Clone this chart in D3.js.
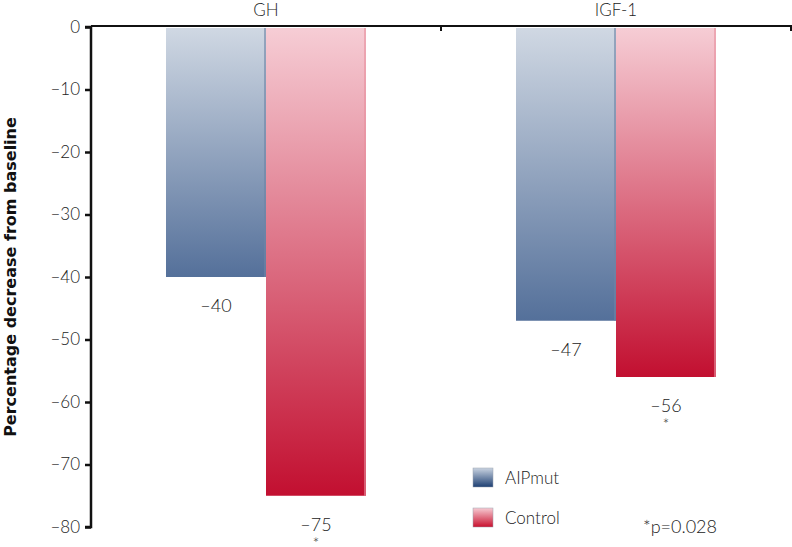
<!DOCTYPE html>
<html><head><meta charset="utf-8">
<script src="https://cdn.jsdelivr.net/npm/d3@7"></script>
<style>
body{margin:0;background:#fff;}
text{font-family:Lato,"Open Sans",sans-serif;}
</style></head>
<body><svg id="c" width="792" height="547"></svg>
<script>
const categories = ["GH", "IGF-1"];
const seriesNames = ["AIPmut", "Control"];
const aipmut = [-40, -47];
const control = [-75, -56];
const significant = [true, true]; // control marked with *
const yTicks = [0, -10, -20, -30, -40, -50, -60, -70, -80];
const note = "*p=0.028";
const yTitle = "Percentage decrease from baseline";

const svg = d3.select("#c");
const mL = 91, mR = 791, mT = 27, mB = 527;
const x0 = d3.scaleBand().domain(categories).range([mL, mR]).padding(0);
const x1 = d3.scaleBand().domain(seriesNames).range([0, x0.bandwidth()]).paddingInner(0).paddingOuter(0.75);
const y = d3.scaleLinear().domain([0, -80]).range([mT, mB]);

const defs = svg.append("defs");
const grads = {
  AIPmut: ["#d0d8e3", "#54709a"],
  Control: ["#f6cdd5", "#c20f30"]
};
const legGrads = {
  AIPmut: ["#c9d3e1", "#1d3f72"],
  Control: ["#f7cbd3", "#c8102e"]
};
function mk(id, c) {
  const g = defs.append("linearGradient").attr("id", id).attr("x1", 0).attr("y1", 0).attr("x2", 0).attr("y2", 1);
  g.append("stop").attr("offset", "0%").attr("stop-color", c[0]);
  g.append("stop").attr("offset", "100%").attr("stop-color", c[1]);
}
seriesNames.forEach(s => { mk("g-" + s, grads[s]); mk("l-" + s, legGrads[s]); });

const data = categories.map((c, i) => ({cat: c, vals: [
  {s: "AIPmut", v: aipmut[i], star: false},
  {s: "Control", v: control[i], star: significant[i]}
]}));

const groups = svg.append("g").selectAll("g").data(data).join("g")
  .attr("transform", d => `translate(${x0(d.cat)},0)`);

groups.selectAll("rect").data(d => d.vals).join("rect")
  .attr("x", d => x1(d.s))
  .attr("y", y(0) + 1)
  .attr("width", x1.bandwidth())
  .attr("height", d => y(d.v) - y(0) - 1)
  .attr("fill", d => `url(#g-${d.s})`);

groups.selectAll("line.edge").data(d => d.vals).join("line")
  .attr("class", "edge")
  .attr("x1", d => x1(d.s) + x1.bandwidth() - 1)
  .attr("x2", d => x1(d.s) + x1.bandwidth() - 1)
  .attr("y1", y(0) + 1).attr("y2", d => y(d.v))
  .attr("stroke", d => d.s === "AIPmut" ? "#6f84a6" : "#e8909f")
  .attr("stroke-width", 1.5).attr("opacity", 0.8);

const vt = groups.selectAll("text.val").data(d => d.vals).join("text")
  .attr("class", "val")
  .attr("y", d => y(d.v) + 35)
  .attr("text-anchor", "middle")
  .attr("font-size", 18).attr("font-weight", 300).attr("fill", "#222");
vt.append("tspan")
  .attr("x", d => x1(d.s) + x1.bandwidth() / 2)
  .text(d => "\u2013" + Math.abs(d.v));
vt.filter(d => d.star).append("tspan")
  .attr("x", d => x1(d.s) + x1.bandwidth() / 2)
  .attr("dy", 18)
  .attr("font-size", 16)
  .text("*");

const yAxis = svg.append("g").attr("transform", `translate(${mL},0)`)
  .call(d3.axisLeft(y).tickValues(yTicks).tickSize(6).tickPadding(5)
    .tickFormat(d => d === 0 ? "0" : "\u2013" + Math.abs(d)));
yAxis.select(".domain").attr("stroke", "#111").attr("stroke-width", 2.5).attr("d", `M-6,${mT}H0V${mB}H-6`);
yAxis.selectAll(".tick line").attr("stroke", "#111").attr("stroke-width", 2.5);
yAxis.selectAll(".tick text").attr("font-size", 17).attr("font-weight", 300).attr("fill", "#222")
  .style("font-family", "Lato, 'Open Sans', sans-serif");

const xAxis = svg.append("g").attr("transform", `translate(0,${mT - 1})`);
xAxis.append("line").attr("x1", mL).attr("x2", mR + 1).attr("y1", 0).attr("y2", 0)
  .attr("stroke", "#111").attr("stroke-width", 2);
xAxis.selectAll("line.tk").data(categories).join("line").attr("class", "tk")
  .attr("x1", d => x0(d) + x0.bandwidth()).attr("x2", d => x0(d) + x0.bandwidth())
  .attr("y1", 0).attr("y2", 5).attr("stroke", "#111").attr("stroke-width", 2);
xAxis.selectAll("text").data(categories).join("text")
  .attr("x", d => x0(d) + x0.bandwidth() / 2).attr("y", -10)
  .attr("text-anchor", "middle").attr("font-size", 17).attr("font-weight", 300).attr("fill", "#222")
  .text(d => d);

svg.append("text").attr("transform", `translate(16,${(mT + mB) / 2}) rotate(-90)`)
  .attr("text-anchor", "middle").attr("font-size", 16).attr("font-weight", 700).attr("fill", "#111")
  .style("font-family", "'DejaVu Sans', sans-serif")
  .text(yTitle);

const leg = svg.append("g").attr("transform", "translate(473,468)");
const li = leg.selectAll("g").data(seriesNames).join("g").attr("transform", (d, i) => `translate(0,${i * 40})`);
li.append("rect").attr("width", 20).attr("height", 19).attr("fill", d => `url(#l-${d})`)
  .attr("stroke", "#9aa3b0").attr("stroke-width", 0.5);
li.append("text").attr("x", 32).attr("y", 16).attr("font-size", 17).attr("font-weight", 300).attr("fill", "#222").text(d => d);

svg.append("text").attr("x", 643).attr("y", 533).attr("font-size", 18).attr("font-weight", 300).attr("fill", "#222").text(note);
</script></body></html>
